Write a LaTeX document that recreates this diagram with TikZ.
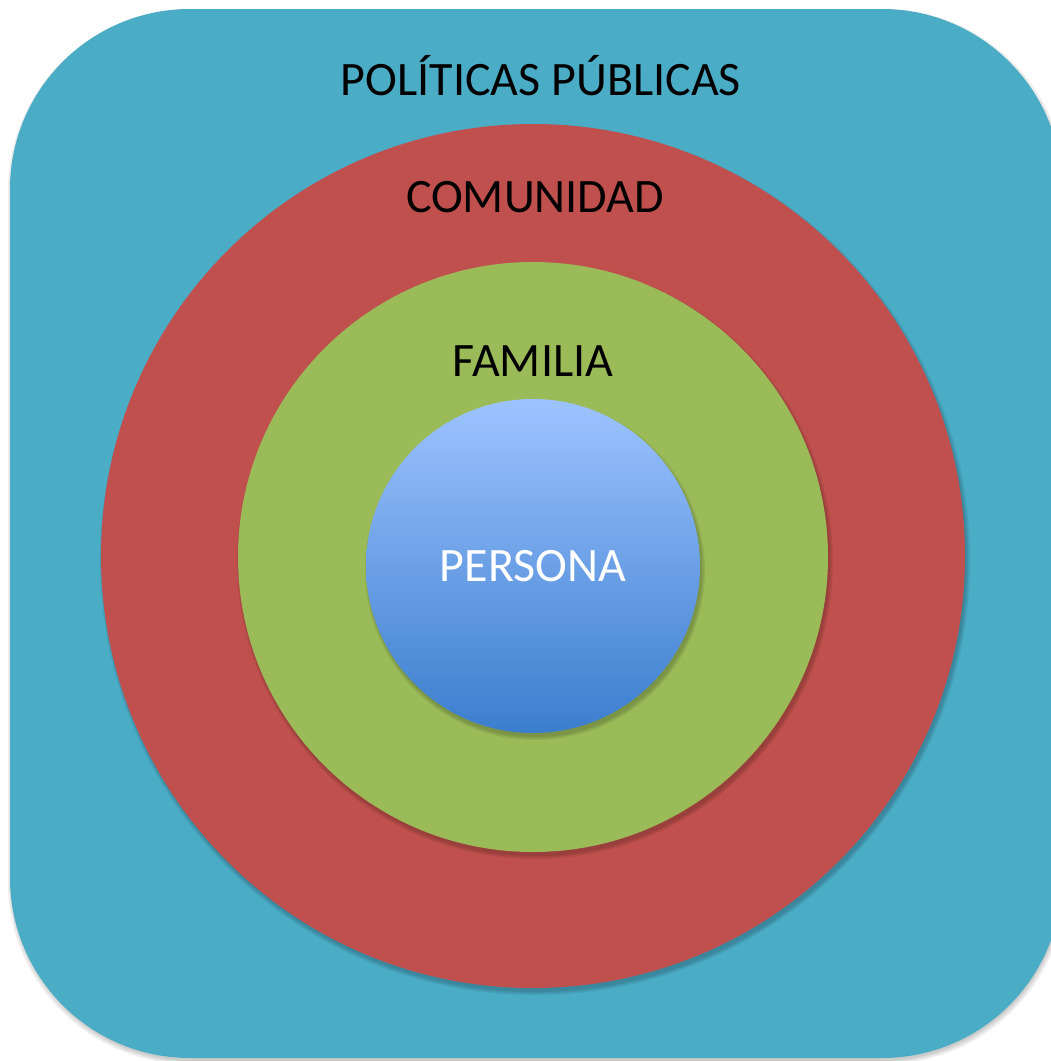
\documentclass[tikz,border=0pt]{standalone}
\usepackage{fontspec}
\setmainfont{Carlito}
\definecolor{politicas}{HTML}{4BACC6}
\definecolor{comunidad}{HTML}{C0504D}
\definecolor{familia}{HTML}{9BBB59}
\definecolor{personatop}{HTML}{9DC3FF}
\definecolor{personabot}{HTML}{3B7ECE}
\tikzset{
  ring/.style={circle, inner sep=0pt, draw=none},
  lbl/.style={font=\fontsize{48}{56}\selectfont, text=black, inner sep=0pt},
  shade1/.style={fill=black, opacity=0.07}
}
\begin{document}
\begin{tikzpicture}[x=1pt,y=-1pt]
\useasboundingbox (0,0) rectangle (1051,1061);
\clip (0,0) rectangle (1051,1061);
% soft shadow of the rounded square
\foreach \d in {0,1.5,3}{
  \fill[shade1, rounded corners=182pt] (10-\d+1,9-\d+3) rectangle (1062+\d+1,1058+\d+3);
}
\fill[politicas, rounded corners=180pt] (10,9) rectangle (1062,1058);
% comunidad
\foreach \d in {0,1.5,3}{
  \fill[shade1] (535,560) circle (432+\d);
}
\node[ring, fill=comunidad, minimum size=864pt] (com) at (533,556) {};
% familia
\foreach \d in {0,1.5,3}{
  \fill[shade1] (535,561) circle (295+\d);
}
\node[ring, fill=familia, minimum size=590pt] (fam) at (533,557) {};
% persona
\foreach \d in {0,1.5,3}{
  \fill[shade1] (535,570) circle (167+\d);
}
\node[ring, top color=personatop, bottom color=personabot, minimum size=334pt] (per) at (533,566) {};
% labels
\node[lbl] (tpol) at (541,76) {POLÍTICAS PÚBLICAS};
\node[lbl] (tcom) at (535,197) {COMUNIDAD};
\node[lbl] (tfam) at (533,361) {FAMILIA};
\node[lbl, text=white] (tper) at (per.center) {PERSONA};
\end{tikzpicture}
\end{document}
